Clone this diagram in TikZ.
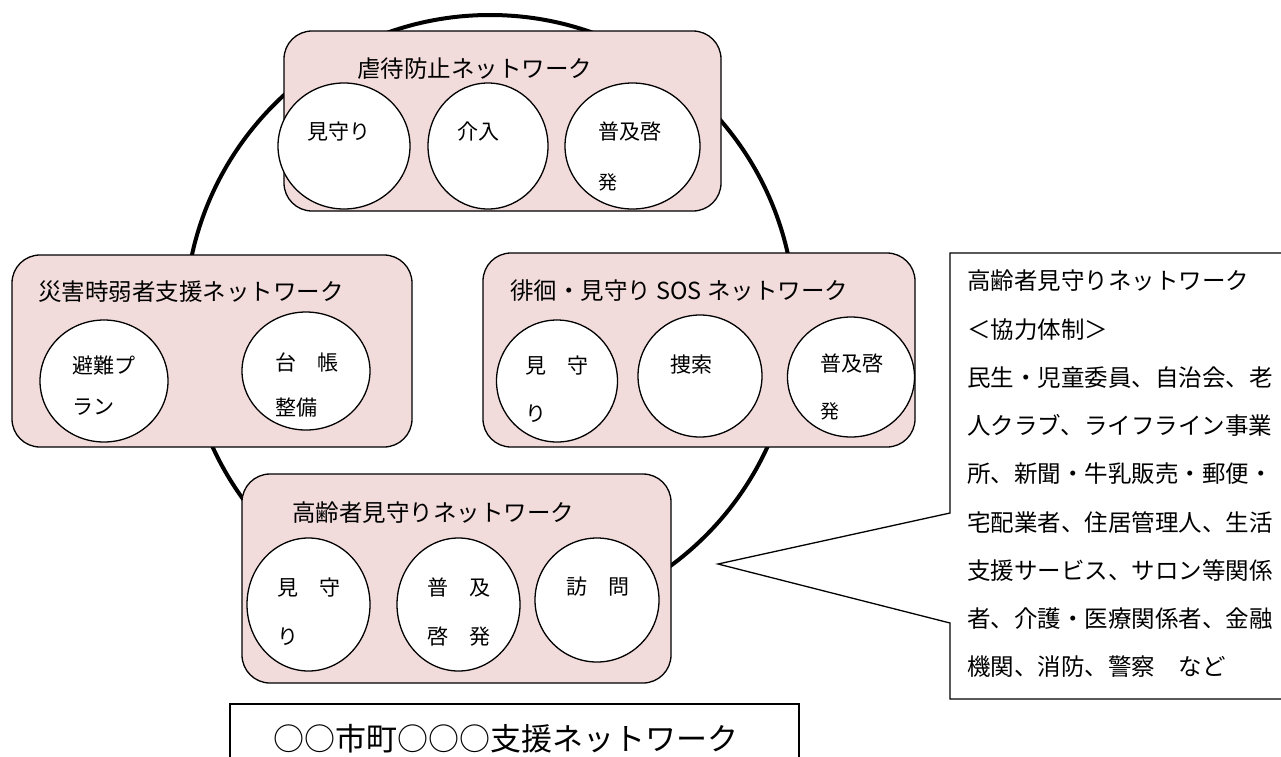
\documentclass[tikz,border=0pt]{standalone}
\usepackage{fontspec}
\setmainfont{Noto Sans CJK JP}
\usetikzlibrary{shapes.geometric}
\definecolor{boxpink}{RGB}{242,220,219}
\begin{document}
\begin{tikzpicture}[x=1pt,y=-1pt,
  ringstyle/.style={draw=black,line width=4pt,circle,inner sep=0pt,outer sep=0pt,minimum size=610pt},
  netbox/.style={draw=black,line width=1.3pt,fill=boxpink,rectangle,rounded corners=28pt,inner sep=0pt,outer sep=0pt},
  bub/.style={draw=black,line width=1.3pt,fill=white,ellipse,inner sep=0pt,outer sep=0pt},
  tA/.style={anchor=west,inner sep=0pt,font=\fontsize{23.5pt}{28pt}\selectfont,text height=20.7pt,text depth=2.8pt},
  tC/.style={anchor=west,inner sep=0pt,font=\fontsize{21pt}{25pt}\selectfont,text height=18.5pt,text depth=2.5pt},
  tD/.style={anchor=west,inner sep=0pt,font=\fontsize{19pt}{23pt}\selectfont,text height=16.7pt,text depth=2.3pt},
  tT/.style={anchor=west,inner sep=0pt,font=\fontsize{31pt}{36pt}\selectfont,text height=27.3pt,text depth=3.7pt},
  thinline/.style={draw=black,line width=1.3pt}]
\path[use as bounding box] (0,0) rectangle (1281,756);
\clip (0,0) rectangle (1281,756);

% big ring
\node[ringstyle] (ring) at (490,320) {};

% network boxes
\node[netbox,minimum width=437pt,minimum height=180pt] (topbox) at (502.5,121) {};
\node[netbox,minimum width=400pt,minimum height=192pt] (leftbox) at (212,351) {};
\node[netbox,minimum width=432pt,minimum height=194pt] (rightbox) at (699,350) {};
\node[netbox,minimum width=429pt,minimum height=209pt] (botbox) at (456.5,578.5) {};

% titles
\node[tA] (toptitle) at (357,69) {虐待防止ネットワーク};
\node[tA] (lefttitle) at (38,292) {災害時弱者支援ネットワーク};
\node[tA] (righttitle) at (510,291) {徘徊・見守り SOS ネットワーク};
\node[tA] (bottitle) at (292,513) {高齢者見守りネットワーク};

% bubbles: top
\node[bub,minimum width=132pt,minimum height=126pt] (t1) at (344,146) {};
\node[bub,minimum width=120pt,minimum height=126pt] (t2) at (488,146) {};
\node[bub,minimum width=135pt,minimum height=126pt] (t3) at (632.5,146) {};
% bubbles: left
\node[bub,minimum width=128pt,minimum height=122pt] (l1) at (104,381) {};
\node[bub,minimum width=128pt,minimum height=118pt] (l2) at (306,371) {};
% bubbles: right
\node[bub,minimum width=121pt,minimum height=122pt] (r1) at (557,381) {};
\node[bub,minimum width=124pt,minimum height=122pt] (r2) at (700,376) {};
\node[bub,minimum width=127pt,minimum height=120pt] (r3) at (851,377) {};
% bubbles: bottom
\node[bub,minimum width=123pt,minimum height=133pt] (b1) at (308.5,604.5) {};
\node[bub,minimum width=123pt,minimum height=133pt] (b2) at (458.5,604.5) {};
\node[bub,minimum width=124pt,minimum height=124pt] (b3) at (597,600) {};

% bubble texts
\node[tC] (t1a) at (307,131) {見守り};
\node[tC] (t2a) at (457,131) {介入};
\node[tC] (t3a) at (598,131) {普及啓};
\node[tD] (t3b) at (598,182) {発};

\node[tC] (l1a) at (72,365) {避難プ};
\node[tC] (l1b) at (72,406) {ラン};
\node[tC] (l2a) at (275,362) {台　帳};
\node[tC] (l2b) at (275,407) {整備};

\node[tC] (r1a) at (525,365) {見　守};
\node[tC] (r1b) at (525,413) {り};
\node[tC] (r2a) at (670,364) {捜索};
\node[tC] (r3a) at (820,363) {普及啓};
\node[tD] (r3b) at (820,411) {発};

\node[tC] (b1a) at (277,587) {見　守};
\node[tC] (b1b) at (277,636) {り};
\node[tC] (b2a) at (427,587) {普　及};
\node[tC] (b2b) at (427,636) {啓　発};
\node[tC] (b3a) at (566,586) {訪　問};

% callout
\coordinate (ctip) at (718,564);
\draw[thinline] (1300,253) -- (950,253) -- (950,513) -- (ctip) -- (950,623) -- (950,699) -- (1300,699);
\node[tA] (c1) at (967,281) {高齢者見守りネットワーク};
\node[tA] (c2) at (967,329.25) {＜協力体制＞};
\node[tA] (c3) at (967,377.5) {民生・児童委員、自治会、老};
\node[tA] (c4) at (967,425.75) {人クラブ、ライフライン事業};
\node[tA] (c5) at (967,474) {所、新聞・牛乳販売・郵便・};
\node[tA] (c6) at (967,522.25) {宅配業者、住居管理人、生活};
\node[tA] (c7) at (967,570.5) {支援サービス、サロン等関係};
\node[tA] (c8) at (967,618.75) {者、介護・医療関係者、金融};
\node[tA] (c9) at (967,667) {機関、消防、警察　など};

% bottom title box
\node[thinline,rectangle,inner sep=0pt,outer sep=0pt,anchor=north west,minimum width=569pt,minimum height=90pt] (titlebox) at (230,704) {};
\node[tT] (titletext) at (273,739) {○○市町○○○支援ネットワーク};
\end{tikzpicture}
\end{document}
